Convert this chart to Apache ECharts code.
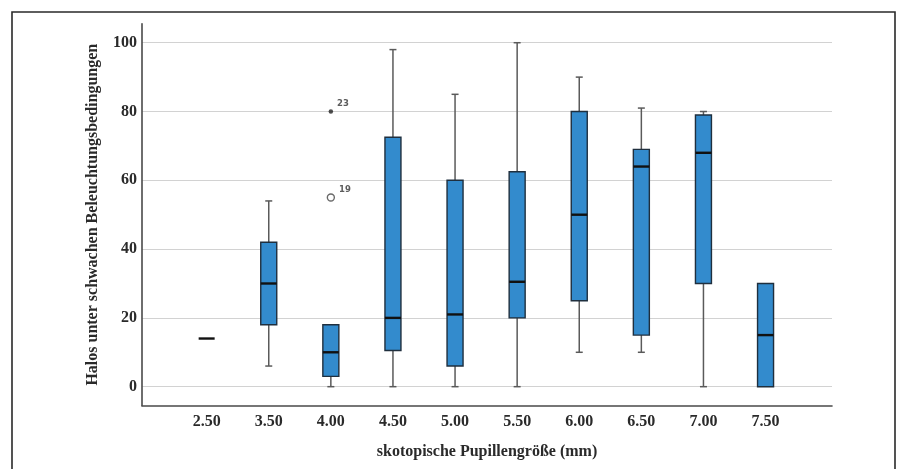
<!DOCTYPE html>
<html><head><meta charset="utf-8">
<script src="https://cdn.jsdelivr.net/npm/echarts@6/dist/echarts.min.js"></script>
<style>html,body{margin:0;padding:0;background:#fff}#c{width:900px;height:469px}</style>
</head><body><div id="c"></div>
<script>
// categories (skotopische Pupillengröße)
const categories = ['2.50','3.50','4.00','4.50','5.00','5.50','6.00','6.50','7.00','7.50'];
// five-number summaries
const mins    = [14,  6,  0,  0,  0,  0, 10, 10,  0,  0];
const q1s     = [14, 18,  3, 10.5, 6, 20, 25, 15, 30,  0];
const medians = [14, 30, 10, 20, 21, 30.5, 50, 64, 68, 15];
const q3s     = [14, 42, 18, 72.5, 60, 62.5, 80, 69, 79, 30];
const maxs    = [14, 54, 18, 98, 85, 100, 90, 81, 80, 30];
// outliers
const outlierCats   = ['4.00', '4.00'];
const outlierValues = [55, 80];
const outlierIds    = ['19', '23'];
const outlierExtreme = [false, true];
// y tick labels
const yTicks = [0, 20, 40, 60, 80, 100];

const font = "'Liberation Serif','Times New Roman',serif";
const textColor = '#2a2a2a';
const boxData = categories.map((c, i) => [i, mins[i], q1s[i], medians[i], q3s[i], maxs[i]]);

const chart = echarts.init(document.getElementById('c'), null, {renderer: 'canvas'});
const yMin = -5.5, yMax = 105.5;
const gridTop = 23.8, gridBottom = 63.4;

chart.setOption({
  animation: false,
  backgroundColor: '#fff',
  graphic: [{
    type: 'rect', z: 100, silent: true,
    shape: {x: 12, y: 12, width: 883, height: 470},
    style: {fill: 'none', stroke: '#2a2a2a', lineWidth: 1.6}
  }],
  grid: [
    {left: 142, right: 68, top: gridTop, bottom: gridBottom},
    {left: 175.6, right: 103.4, top: gridTop, bottom: gridBottom}
  ],
  xAxis: [
    {
      gridIndex: 0, type: 'value', min: 0, max: 1,
      axisLine: {show: true, onZero: false, lineStyle: {color: '#4a4a4a', width: 1.6}},
      axisTick: {show: false}, axisLabel: {show: false}, splitLine: {show: false},
      name: 'skotopische Pupillengröße (mm)', nameLocation: 'middle', nameGap: 38,
      nameTextStyle: {fontFamily: font, fontSize: 16, fontWeight: 'bold', color: textColor}
    },
    {
      gridIndex: 1, type: 'category', data: categories, boundaryGap: true,
      axisLine: {show: false, onZero: false}, axisTick: {show: false},
      axisLabel: {fontFamily: font, fontSize: 16, fontWeight: 'bold', color: textColor, margin: 8},
      splitLine: {show: false}
    }
  ],
  yAxis: [
    {
      gridIndex: 0, type: 'value', min: yMin, max: yMax,
      axisLine: {show: true, onZero: false, lineStyle: {color: '#4a4a4a', width: 1.6}},
      axisTick: {show: false, customValues: yTicks},
      axisLabel: {customValues: yTicks, fontFamily: font, fontSize: 16, fontWeight: 'bold', color: textColor, margin: 5},
      splitLine: {show: true, lineStyle: {color: '#d2d2d2', width: 1.2}},
      name: 'Halos unter schwachen Beleuchtungsbedingungen', nameLocation: 'middle', nameGap: 41,
      nameRotate: 90,
      nameTextStyle: {fontFamily: font, fontSize: 16, fontWeight: 'bold', color: textColor}
    },
    {
      gridIndex: 1, type: 'value', min: yMin, max: yMax, show: false,
      splitLine: {show: false}
    }
  ],
  series: [
    {
      type: 'custom', xAxisIndex: 1, yAxisIndex: 1, data: boxData,
      encode: {x: 0, y: [1, 2, 3, 4, 5]},
      renderItem: function (params, api) {
        const x = api.value(0);
        const pMin = api.coord([x, api.value(1)]);
        const pQ1 = api.coord([x, api.value(2)]);
        const pMed = api.coord([x, api.value(3)]);
        const pQ3 = api.coord([x, api.value(4)]);
        const pMax = api.coord([x, api.value(5)]);
        const cx = pMed[0];
        const hw = 8, cw = 3.5;
        const whisker = {stroke: '#5a5a5a', lineWidth: 1.5};
        const children = [];
        if (pMax[1] < pQ3[1] - 0.5) {
          children.push({type: 'line', shape: {x1: cx, y1: pQ3[1], x2: cx, y2: pMax[1]}, style: whisker});
          children.push({type: 'line', shape: {x1: cx - cw, y1: pMax[1], x2: cx + cw, y2: pMax[1]}, style: whisker});
        }
        if (pMin[1] > pQ1[1] + 0.5) {
          children.push({type: 'line', shape: {x1: cx, y1: pQ1[1], x2: cx, y2: pMin[1]}, style: whisker});
          children.push({type: 'line', shape: {x1: cx - cw, y1: pMin[1], x2: cx + cw, y2: pMin[1]}, style: whisker});
        }
        if (pQ1[1] - pQ3[1] > 0.5) {
          children.push({type: 'rect', shape: {x: cx - hw, y: pQ3[1], width: hw * 2, height: pQ1[1] - pQ3[1]},
            style: {fill: '#338bcd', stroke: '#1f2f3e', lineWidth: 1.4}});
        }
        children.push({type: 'line', shape: {x1: cx - hw, y1: pMed[1], x2: cx + hw, y2: pMed[1]},
          style: {stroke: '#111', lineWidth: 2.4}});
        return {type: 'group', children: children};
      }
    },
    {
      type: 'scatter', xAxisIndex: 1, yAxisIndex: 1, symbol: 'circle',
      data: outlierCats.map((c, i) => ({
        value: [c, outlierValues[i]],
        symbolSize: outlierExtreme[i] ? 4.5 : 7,
        itemStyle: outlierExtreme[i] ? {color: '#222'} : {color: '#fff', borderColor: '#444', borderWidth: 1.4},
        label: {show: true, formatter: outlierIds[i]}
      })),
      label: {position: 'right', offset: [-1, -8], fontFamily: "'DejaVu Sans',sans-serif", fontSize: 8.5, fontWeight: 'bold', color: '#333'}
    }
  ]
});
</script>
</body></html>
